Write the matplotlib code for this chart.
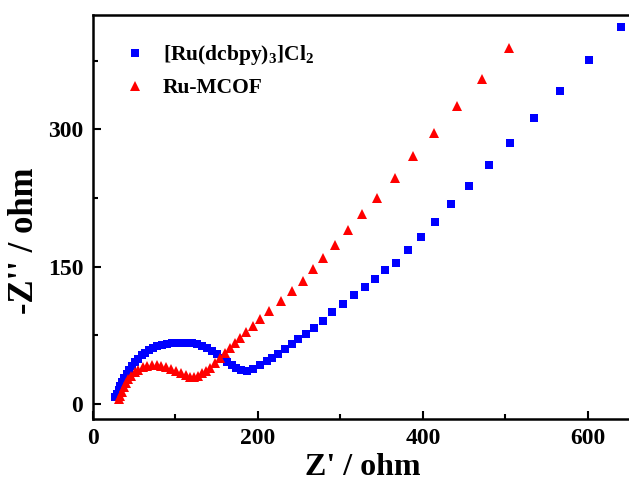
import matplotlib
matplotlib.use("Agg")
import matplotlib.pyplot as plt
from matplotlib.ticker import MultipleLocator

plt.rcParams['font.family'] = ['Liberation Serif', 'DejaVu Serif']
plt.rcParams['font.weight'] = 'bold'
plt.rcParams['mathtext.fontset'] = 'custom'
plt.rcParams['mathtext.rm'] = 'Liberation Serif:bold'
plt.rcParams['mathtext.bf'] = 'Liberation Serif:bold'
plt.rcParams['mathtext.it'] = 'Liberation Serif:bold'

# [Ru(dcbpy)3]Cl2
ru_x = [27, 29, 31, 33, 35.5, 38, 41, 44, 47.5, 51, 55, 59, 63.5, 68, 73, 78,
        84, 90, 96, 102, 108, 114, 120, 126, 132, 138, 144, 150, 156, 162,
        168, 174, 180, 186.5, 194.4, 202.5, 210.7, 217.5, 224.8, 232.9, 241,
        249, 258, 268.4, 278.6, 290.2, 303.6, 316.8, 329.5, 342.2, 354.6,
        367.1, 381.7, 397.8, 414.8, 434.2, 456, 479.9, 505.8, 534.9, 566.4,
        601.2, 640.4]
ru_y = [7, 11, 15, 19, 23.5, 28, 32.5, 37, 41.5, 45.5, 49.5, 53, 56, 58.8,
        61.2, 63, 64.6, 65.8, 66.5, 66.9, 67, 66.8, 66.2, 65, 63.2, 60.8, 57.8,
        54, 50, 46, 42.3, 39.2, 37, 35.8, 37.6, 42, 46.7, 50, 54.8, 59.5, 64.9,
        71.1, 76.9, 83.1, 91.1, 100.2, 109.4, 119, 128, 137, 146, 154.3, 167.9,
        182.5, 199.2, 218.9, 238.5, 260.7, 285, 312.2, 342.2, 375.3, 412.4]

# Ru-MCOF
cof_x = [31, 33, 35, 37.5, 40, 43, 46.5, 50.5, 55, 60, 65.5, 71, 77, 83, 89,
         95, 101, 107, 112.5, 117.5, 122.5, 127.5, 132.5, 137.5, 142, 148,
         154, 160, 166, 172, 178, 185, 193.7, 202.5, 213.8, 227.9, 241, 254.3,
         267.2, 279.3, 293.5, 308.9, 325.9, 344.8, 365.9, 388.5, 413.2, 441.5,
         471.4, 504.9]
cof_y = [5, 9, 13.5, 18, 22.5, 27, 31, 34.5, 37.5, 39.8, 41.3, 42.2, 42.3,
         41.6, 40, 38, 35.8, 33.3, 31.2, 29.8, 29.8, 31, 33.3, 36.3, 39.5, 45,
         50.4, 55.9, 61.4, 66.8, 72.3, 78.4, 85, 93, 102, 112.2, 123.1, 134.8,
         147, 159.5, 173.9, 189.5, 207, 225.3, 247, 270.5, 296.2, 325.3, 355.3,
         388.9]

fig = plt.figure(figsize=(6.29, 4.83), dpi=100)
ax = fig.add_axes([0.1479, 0.1335, 0.8586, 0.8354])

ax.plot(ru_x, ru_y, 's', color='#0000FF', markersize=5.8, markeredgewidth=0,
        label=r'[Ru(dcbpy)$_{\mathbf{3}}$]Cl$_{\mathbf{2}}$')
ax.plot(cof_x, cof_y, '^', color='#FF0000', markersize=7.5, markeredgewidth=0,
        label='Ru-MCOF')

ax.set_xlim(0, 655)
ax.set_ylim(-16, 425)
ax.xaxis.set_major_locator(MultipleLocator(200))
ax.xaxis.set_minor_locator(MultipleLocator(100))
ax.yaxis.set_major_locator(MultipleLocator(150))
ax.yaxis.set_minor_locator(MultipleLocator(75))
ax.tick_params(which='both', direction='in', width=1.5, labelsize=17)
ax.tick_params(which='major', length=6, pad=7)
ax.tick_params(which='minor', length=3.5)
for s in ax.spines.values():
    s.set_linewidth(1.8)

ax.set_xlabel("Z' / ohm", fontsize=23, fontweight='bold')
ax.set_ylabel("-Z'' / ohm", fontsize=25, fontweight='bold')
ax.xaxis.set_label_coords(0.5, -0.085)
ax.yaxis.set_label_coords(-0.097, 0.44)

ax.legend(loc='upper left', frameon=False, fontsize=15.5, numpoints=1,
          handletextpad=0.3, labelspacing=0.5, borderaxespad=0.3,
          bbox_to_anchor=(0.01, 0.967))

fig.savefig('out.png', dpi=100)
